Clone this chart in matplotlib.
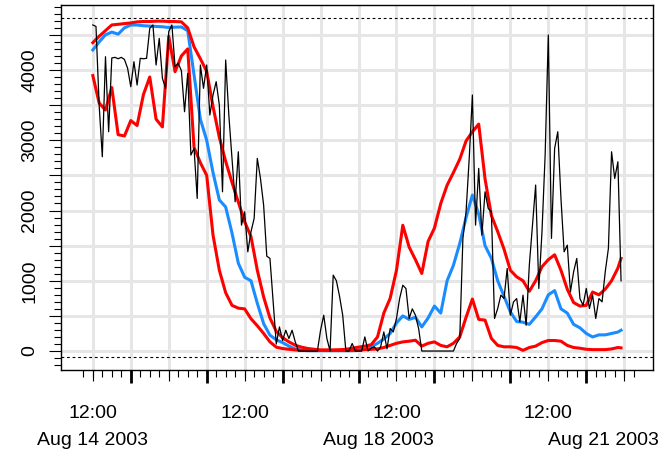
import numpy as np
import matplotlib
matplotlib.use("Agg")
import matplotlib.pyplot as plt

plt.rcParams['font.family'] = ['Liberation Sans', 'DejaVu Sans']

# hours since Aug 14 2003 12:00
obs_hours = np.arange(168)
observed = [4641, 4620, 3500, 2765, 4189, 3121, 4171, 4180, 4160, 4180,
            4150, 4024, 3762, 4118, 3786, 4166, 4160, 4166, 4594, 4641,
            4071, 4450, 3882, 3739, 4546, 4641, 4047, 4095, 3990, 3406,
            3953, 2789, 2885, 2172, 4071, 3739, 4071, 3359, 3644, 3834,
            3500, 2266, 4142, 3359, 2742, 2124, 2836, 1792, 1982, 1412,
            1697, 1887, 2742, 2457, 2077, 1350, 1318, 700, 100, 343,
            150, 296, 178, 296, 130, 0, 0, 0, 0, 0,
            0, 0, 296, 510, 178, 0, 1080, 1000, 780, 510,
            0, 0, 107, 0, 0, 0, 201, 0, 40, 60,
            0, 60, 272, 30, 320, 272, 463, 747, 937, 889,
            463, 600, 510, 320, 0, 0, 0, 0, 0, 0,
            0, 0, 0, 0, 0, 107, 178, 1603, 1982, 2742,
            3644, 1792, 2600, 1650, 2266, 2030, 1982, 463, 605, 795,
            747, 1175, 510, 699, 747, 415, 795, 367, 1222, 1792,
            2362, 890, 1697, 2789, 4499, 1603, 2885, 3121, 2172, 1412,
            1507, 842, 1127, 1318, 747, 652, 890, 605, 795, 463,
            747, 700, 1127, 1460, 2836, 2457, 2694, 1000]

fc_hours = list(range(0, 167, 2)) + [167]
upper = [4389, 4480, 4560, 4641, 4650, 4660, 4670, 4685, 4690, 4690,
         4695, 4695, 4690, 4690, 4685, 4600, 4330, 4160, 3980, 3480,
         3040, 2700, 2400, 2120, 1840, 1630, 1150, 770, 470, 280,
         190, 130, 83, 55, 36, 25, 15, 15, 15, 18,
         25, 40, 55, 70, 90, 200, 540, 750, 1150, 1790,
         1480, 1300, 1104, 1560, 1750, 2100, 2360, 2540, 2730, 2990,
         3120, 3230, 2450, 1930, 1700, 1450, 1150, 1056, 1000, 850,
         1000, 1200, 1300, 1370, 1150, 880, 690, 640, 650, 840,
         800, 880, 1000, 1180, 1318]
median = [4285, 4400, 4500, 4540, 4510, 4600, 4640, 4640, 4630, 4625,
          4620, 4615, 4605, 4610, 4612, 4560, 3930, 3300, 3000, 2540,
          2150, 2050, 1680, 1250, 1050, 1000, 680, 390, 225, 160,
          120, 70, 30, 10, 5, 5, 5, 5, 5, 5,
          5, 5, 10, 30, 60, 110, 170, 250, 400, 500,
          450, 480, 343, 470, 640, 540, 1000, 1220, 1530, 1900,
          2220, 1950, 1500, 1320, 1000, 780, 557, 420, 410, 380,
          486, 600, 800, 860, 600, 540, 380, 330, 250, 200,
          230, 230, 250, 270, 296]
lower = [3920, 3530, 3430, 3750, 3080, 3060, 3280, 3210, 3650, 3900,
         3300, 3190, 4480, 3976, 4200, 4300, 2900, 2680, 2500, 1650,
         1150, 830, 650, 610, 600, 460, 360, 250, 130, 55,
         35, 25, 15, 10, 10, 10, 10, 10, 10, 10,
         10, 10, 10, 20, 25, 30, 50, 80, 110, 130,
         140, 154, 70, 110, 130, 80, 60, 110, 200, 480,
         740, 450, 440, 180, 80, 60, 60, 50, 10, 50,
         70, 120, 150, 150, 140, 80, 50, 40, 25, 20,
         20, 20, 30, 50, 45]

upper_dash = 4735
lower_dash = -85

time_labels = ["12:00", "12:00", "12:00", "12:00"]
time_label_hours = [0, 48, 96, 144]
date_labels = ["Aug 14 2003", "Aug 18 2003", "Aug 21 2003"]
date_label_hours = [0, 90.2, 161.5]

fig = plt.figure(figsize=(6.59, 4.5), dpi=100)
ax = fig.add_axes([61/659, 80/450, 592/659, 365/450])

grid_col = "#e6e6e6"
for h in range(0, 169, 12):
    ax.axvline(h, color=grid_col, lw=2.2, zorder=0)
for v in range(0, 4501, 500):
    ax.axhline(v, color=grid_col, lw=2.2, zorder=0)

ax.axhline(upper_dash, color="black", lw=0.8, ls=(0, (2.5, 2.5)), zorder=1)
ax.axhline(lower_dash, color="black", lw=0.8, ls=(0, (2.5, 2.5)), zorder=1)

ax.plot(fc_hours, median, color="#1a8cff", lw=2.2, zorder=2)
ax.plot(fc_hours, lower, color="#ff0000", lw=2.2, zorder=3)
ax.plot(fc_hours, upper, color="#ff0000", lw=2.2, zorder=3)
ax.plot(obs_hours, observed, color="black", lw=0.9, zorder=4)

ax.set_xlim(-10.06, 177.1)
ax.set_ylim(-270, 4925)

# y axis
ax.set_yticks(range(0, 4501, 500))
ax.set_yticklabels([str(v) if v % 1000 == 0 else "" for v in range(0, 4501, 500)],
                   rotation=90, va="center", fontsize=14)
ax.set_yticks(range(-200, 4901, 100), minor=True)
ax.tick_params(axis="y", which="major", length=8.5, width=0.8, pad=8)
ax.tick_params(axis="y", which="minor", length=4.8, width=0.8)

# x axis: midnight ticks thick, 12:00 medium, every 3 h minor
ax.set_xticks(range(12, 169, 24))
ax.set_xticklabels([])
ax.set_xticks(range(-3, 172, 3), minor=True)
ax.tick_params(axis="x", which="major", length=9.5, width=2.0)
ax.tick_params(axis="x", which="minor", length=5.0, width=0.8)
sec = ax.secondary_xaxis("bottom")
sec.set_xticks(range(0, 169, 24))
sec.set_xticklabels([])
sec.tick_params(length=8.0, width=0.8)
sec.spines["bottom"].set_visible(False)

for s in ax.spines.values():
    s.set_linewidth(1.0)

tr = ax.get_xaxis_transform()
for h, t in zip(time_label_hours, time_labels):
    ax.text(h, -0.1315, t, transform=tr, ha="center", va="baseline", fontsize=14)
for h, t in zip(date_label_hours, date_labels):
    ax.text(h, -0.2055, t, transform=tr, ha="center", va="baseline", fontsize=14,
            clip_on=False)

fig.savefig("out.png", dpi=100)
